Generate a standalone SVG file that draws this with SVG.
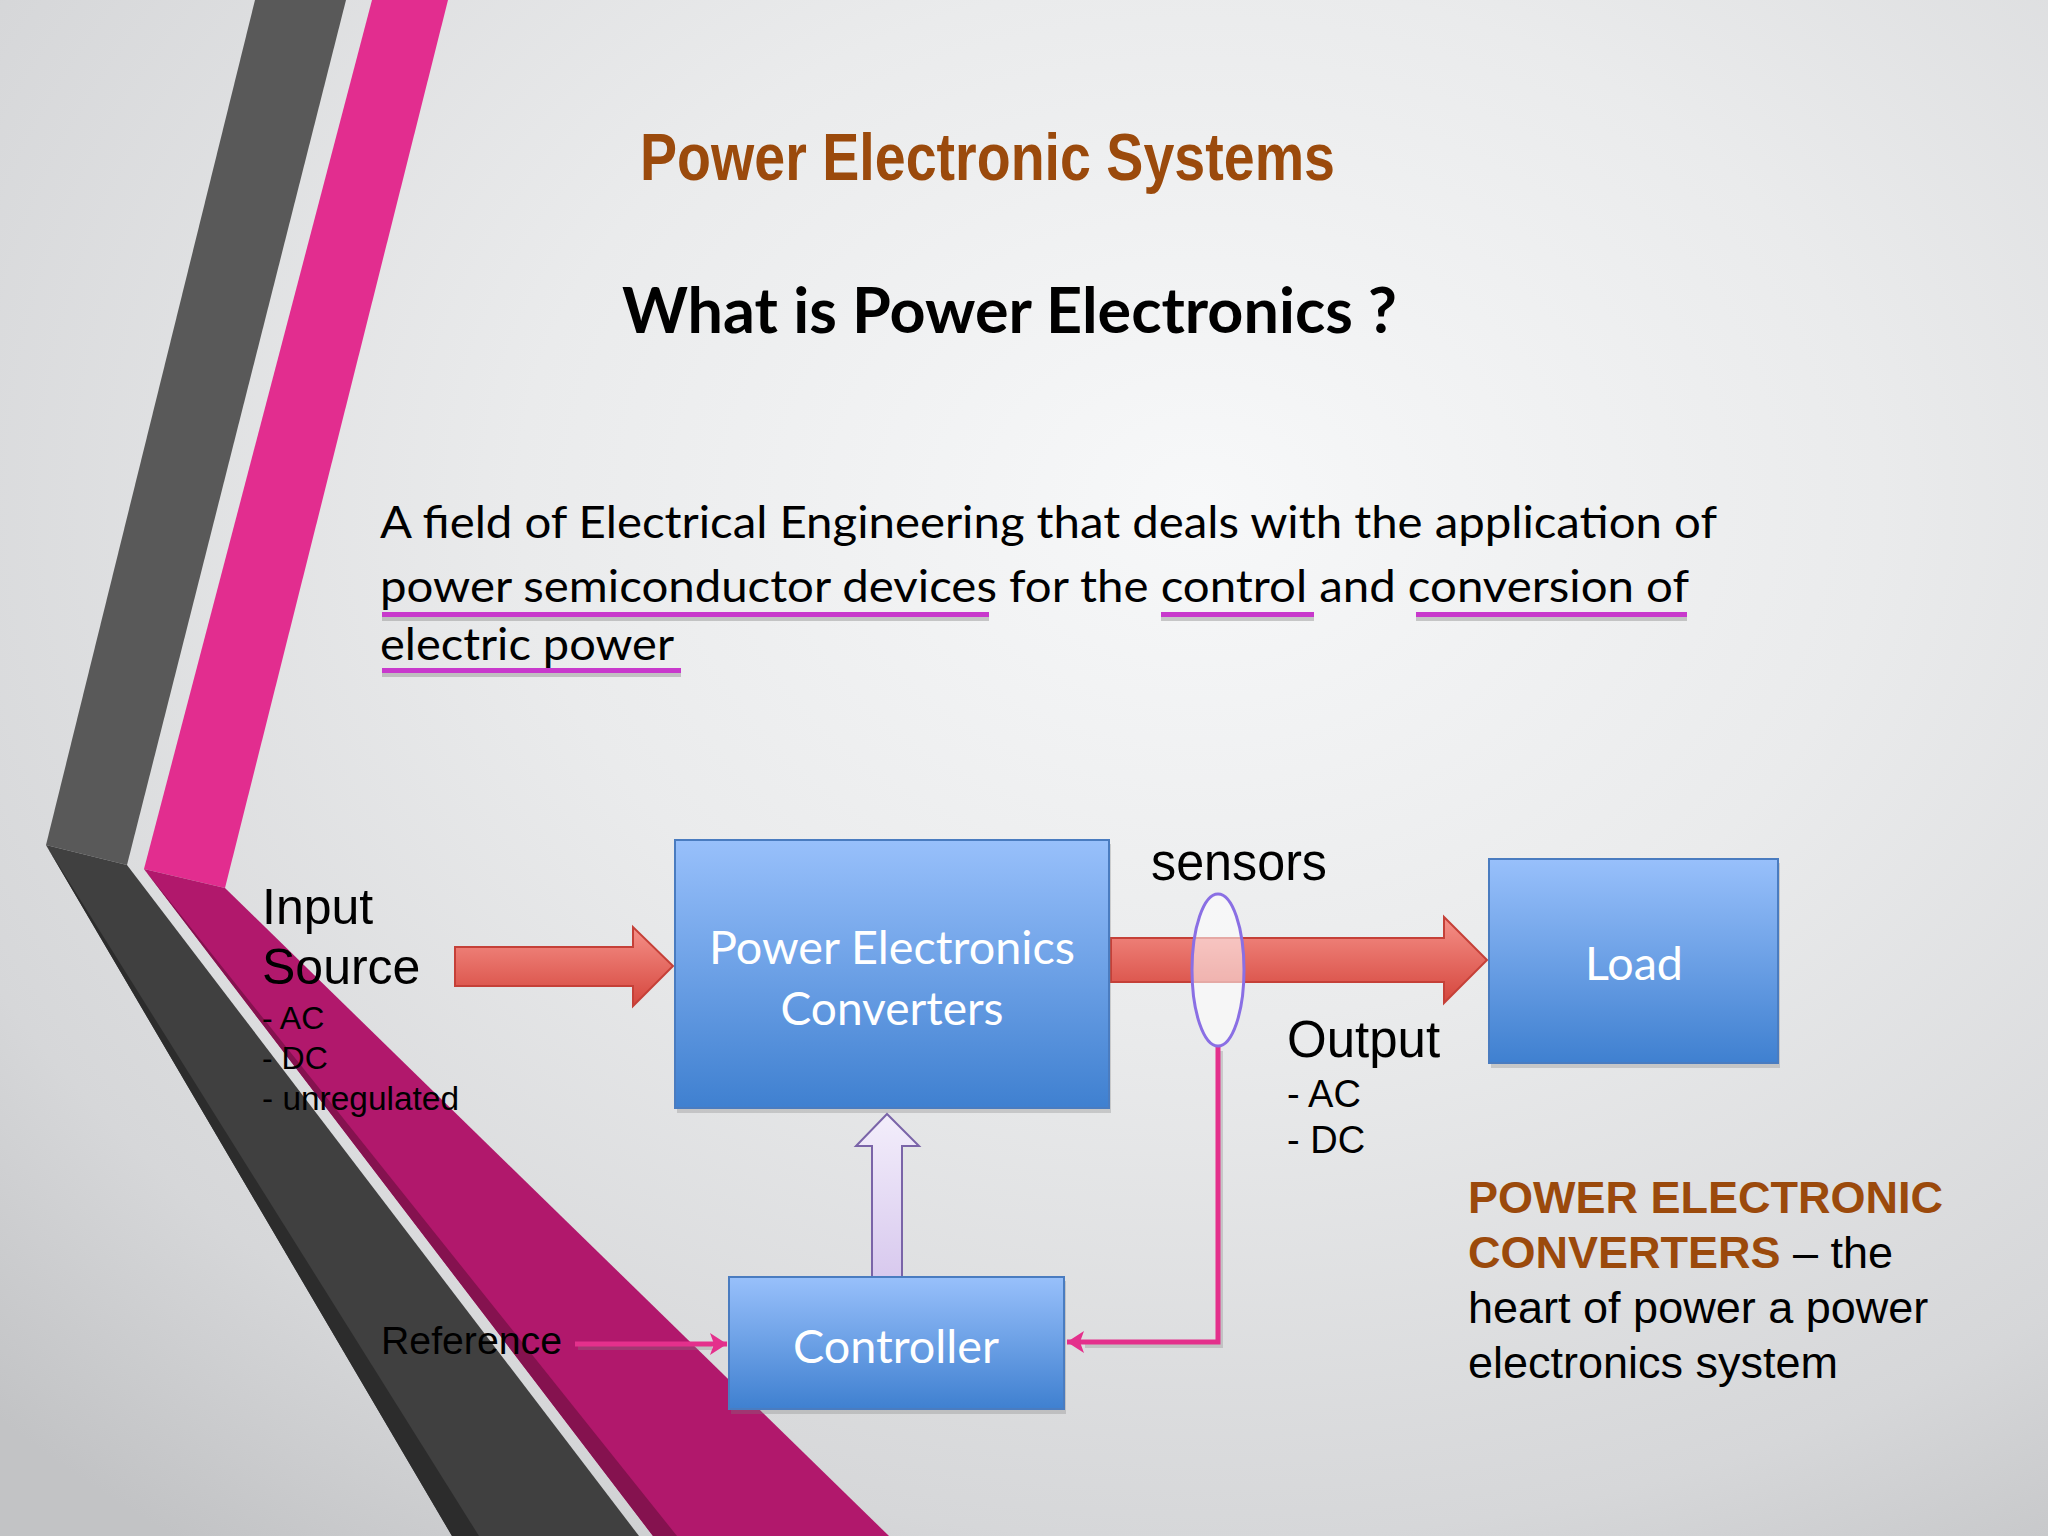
<svg xmlns="http://www.w3.org/2000/svg" width="2048" height="1536" viewBox="0 0 2048 1536">
<defs>
<radialGradient id="bg" cx="0" cy="0" r="1" gradientUnits="userSpaceOnUse" gradientTransform="translate(1200,500) scale(1700,1300)">
<stop offset="0" stop-color="#F7F8F9"/>
<stop offset="0.4" stop-color="#EAEBEC"/>
<stop offset="0.8" stop-color="#D6D7D9"/>
<stop offset="1" stop-color="#C2C3C5"/>
</radialGradient>
<linearGradient id="boxg" x1="0" y1="0" x2="0" y2="1">
<stop offset="0" stop-color="#98C0FB"/>
<stop offset="1" stop-color="#3F80D0"/>
</linearGradient>
<linearGradient id="redg" x1="0" y1="0" x2="0" y2="1">
<stop offset="0" stop-color="#F59088"/>
<stop offset="1" stop-color="#D5463D"/>
</linearGradient>
<linearGradient id="lavg" x1="0" y1="0" x2="0" y2="1">
<stop offset="0" stop-color="#F3EEFB"/>
<stop offset="1" stop-color="#D8C9EE"/>
</linearGradient>
<marker id="pinkhead" markerUnits="userSpaceOnUse" markerWidth="20" markerHeight="22" refX="17" refY="11" orient="auto">
<path d="M0,0 L17,11 L0,22 L4,11 z" fill="#E4308C"/>
</marker>
<style>
.box{fill:url(#boxg);stroke:#4A7CC0;stroke-width:2}
.shadow{fill:#7d7d7d;opacity:0.3}
.boxtxt{font-family:Lato,"Open Sans",sans-serif;font-size:46px;fill:#FFFFFF;text-anchor:middle}
.redarrow{fill:url(#redg);stroke:#C54038;stroke-width:2}
.lbl{font-family:"Liberation Sans",Arial,sans-serif;fill:#000000}
.ul{fill:#C839CC}
.uls{fill:#8f8f8f;opacity:0.45}
.pink{fill:none;stroke:#E4308C;stroke-width:5}
.pinksh{fill:none;stroke:#808080;stroke-width:4;opacity:0.3}
.para{font-family:Lato,"Open Sans",sans-serif;font-size:44px;fill:#000000}
.brown{fill:#9B4A0C;font-weight:bold}
</style>
</defs>

<rect id="background" x="0" y="0" width="2048" height="1536" fill="url(#bg)"/>

<g id="stripes">
<polygon points="255,0 346,0 127,865 46,845" fill="#595959"/>
<polygon points="46,845 127,865 639,1536 452,1536" fill="#404040"/>
<polygon points="46,845 479,1536 452,1536" fill="#2C2C2C"/>
<polygon points="372,0 448,0 225,888 144,869" fill="#E22D8F"/>
<polygon points="144,869 225,888 889,1536 653,1536" fill="#B1186C"/>
<polygon points="144,869 677,1536 653,1536" fill="#85124F"/>
</g>

<g id="title">
<text x="640" y="180" font-family="'Liberation Sans',Arial,sans-serif" font-size="67" font-weight="bold" fill="#9B4A0C" textLength="695" lengthAdjust="spacingAndGlyphs">Power Electronic Systems</text>
<text x="622" y="333" font-family="Lato,'Open Sans',sans-serif" font-size="63" font-weight="bold" fill="#000000" textLength="775" lengthAdjust="spacingAndGlyphs">What is Power Electronics ?</text>
</g>

<g id="definition">
<text class="para" x="380" y="538" textLength="1337" lengthAdjust="spacingAndGlyphs">A field of Electrical Engineering that deals with the application of</text>
<text class="para" x="380" y="602" textLength="1309" lengthAdjust="spacingAndGlyphs">power semiconductor devices for the control and conversion of</text>
<text class="para" x="380" y="660" textLength="294" lengthAdjust="spacingAndGlyphs">electric power</text>
<rect class="uls" x="382" y="617" width="607" height="4"/>
<rect class="ul" x="382" y="612" width="607" height="5"/>
<rect class="uls" x="1161" y="617" width="153" height="4"/>
<rect class="ul" x="1161" y="612" width="153" height="5"/>
<rect class="uls" x="1416" y="617" width="271" height="4"/>
<rect class="ul" x="1416" y="612" width="271" height="5"/>
<rect class="uls" x="382" y="673" width="299" height="4"/>
<rect class="ul" x="382" y="668" width="299" height="5"/>
</g>

<g id="connectors">
<polygon id="input-arrow" class="redarrow" points="455,947 633,947 633,927 673,966 633,1006 633,986 455,986"/>
<polygon id="output-arrow" class="redarrow" points="1111,938 1444,938 1444,917 1487,960 1444,1003 1444,982 1111,982"/>
<polygon id="control-arrow" points="872,1277 872,1146 856,1146 887,1114 919,1146 902,1146 902,1277" fill="url(#lavg)" stroke="#7A64A8" stroke-width="2"/>
<path class="pinksh" d="M1221,1051 V1346 H1085"/>
<path id="feedback" class="pink" d="M1218,1047 V1342 H1067" marker-end="url(#pinkhead)"/>
<path class="pinksh" d="M578,1348 H712"/>
<path id="reference-arrow" class="pink" d="M575,1344 H727" marker-end="url(#pinkhead)"/>
</g>

<g id="sensor">
<ellipse cx="1218" cy="970" rx="26" ry="76" fill="#FFFFFF" fill-opacity="0.55" stroke="#8A6FE4" stroke-width="3"/>
</g>

<g id="pec">
<rect class="shadow" x="677" y="844" width="434" height="269"/>
<rect class="box" x="675" y="840" width="434" height="268"/>
<text class="boxtxt" x="892" y="964" textLength="366" lengthAdjust="spacingAndGlyphs">Power Electronics</text>
<text class="boxtxt" x="892" y="1025" textLength="223" lengthAdjust="spacingAndGlyphs">Converters</text>
</g>

<g id="load">
<rect class="shadow" x="1491" y="863" width="289" height="205"/>
<rect class="box" x="1489" y="859" width="289" height="204"/>
<text class="boxtxt" x="1634" y="980" textLength="98" lengthAdjust="spacingAndGlyphs">Load</text>
</g>

<g id="controller">
<rect class="shadow" x="731" y="1281" width="335" height="133"/>
<rect class="box" x="729" y="1277" width="335" height="132"/>
<text class="boxtxt" x="896" y="1363" textLength="206" lengthAdjust="spacingAndGlyphs">Controller</text>
</g>

<g id="input-source">
<text class="lbl" x="262" y="924" font-size="50">Input</text>
<text class="lbl" x="262" y="984" font-size="50">Source</text>
<text class="lbl" x="262" y="1029" font-size="32">- AC</text>
<text class="lbl" x="262" y="1069" font-size="32">- DC</text>
<text class="lbl" x="262" y="1110" font-size="33" textLength="197" lengthAdjust="spacingAndGlyphs">- unregulated</text>
</g>

<g id="sensors-label">
<text class="lbl" x="1151" y="880" font-size="51" textLength="176" lengthAdjust="spacingAndGlyphs">sensors</text>
</g>

<g id="output">
<text class="lbl" x="1287" y="1057" font-size="51">Output</text>
<text class="lbl" x="1287" y="1107" font-size="38">- AC</text>
<text class="lbl" x="1287" y="1153" font-size="38">- DC</text>
</g>

<g id="reference">
<text class="lbl" x="381" y="1354" font-size="38" textLength="181" lengthAdjust="spacingAndGlyphs">Reference</text>
</g>

<g id="note">
<text class="lbl" x="1468" y="1213" font-size="45"><tspan class="brown">POWER ELECTRONIC</tspan></text>
<text class="lbl" x="1468" y="1268" font-size="45"><tspan class="brown">CONVERTERS</tspan> – the</text>
<text class="lbl" x="1468" y="1323" font-size="45">heart of power a power</text>
<text class="lbl" x="1468" y="1378" font-size="45">electronics system</text>
</g>
</svg>
